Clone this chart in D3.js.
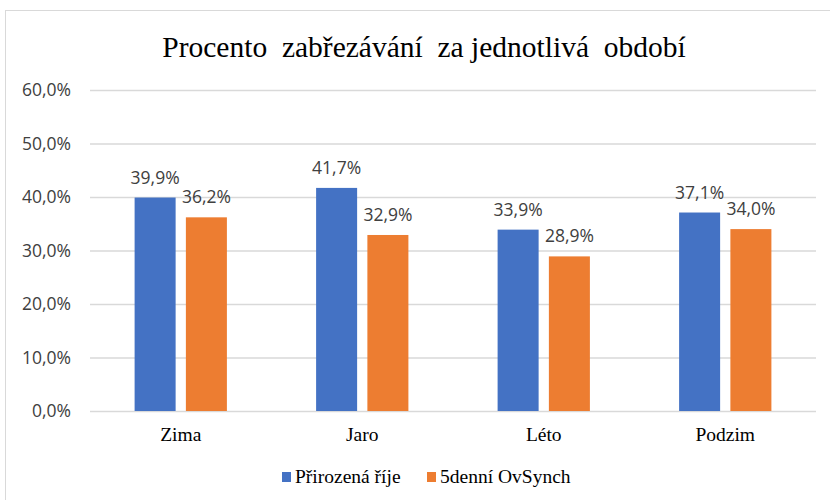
<!DOCTYPE html>
<html><head><meta charset="utf-8">
<script src="https://cdn.jsdelivr.net/npm/d3@7"></script>
<style>body{margin:0;background:#fff}svg{display:block}</style>
</head><body>
<script>
const categories = ["Zima", "Jaro", "Léto", "Podzim"];
const seriesNames = ["Přirozená říje", "5denní OvSynch"];
const natural = [39.9, 41.7, 33.9, 37.1];
const ovsynch = [36.2, 32.9, 28.9, 34.0];
const yTicks = [0, 10, 20, 30, 40, 50, 60];
const colors = ["#4472C4", "#ED7D31"];
const title = "Procento  zabřezávání  za jednotlivá  období";

const W = 830, H = 500;
const svg = d3.select("body").append("svg").attr("width", W).attr("height", H);
svg.append("rect").attr("x", 5.5).attr("y", 10.5).attr("width", 900).attr("height", 600)
  .attr("fill", "#fff").attr("stroke", "#d9d9d9").attr("stroke-width", 1);

const m = {left: 90, right: 816, top: 90, bottom: 411};
const x = d3.scaleBand().domain(categories).range([m.left, m.right]).paddingInner(0).paddingOuter(0);
const y = d3.scaleLinear().domain([0, 60]).range([m.bottom, m.top]);
const x1 = d3.scaleBand().domain([0, 1]).range([0, x.bandwidth()]).paddingInner(0.2).paddingOuter(0.87);

const fmt = v => d3.format(".1f")(v).replace(".", ",") + "%";
const sans = "Open Sans, sans-serif";
const serif = "Liberation Serif, Times New Roman, serif";

// gridlines
const yAxis = d3.axisLeft(y).tickValues(yTicks).tickSize(-(m.right - m.left)).tickFormat(fmt).tickPadding(19);
const ga = svg.append("g").attr("transform", `translate(${m.left},0)`).call(yAxis);
ga.select(".domain").remove();
ga.selectAll(".tick line").attr("stroke", "#d9d9d9").attr("stroke-width", 1.3);
ga.selectAll(".tick text").attr("font-family", sans).attr("font-size", 17.5).attr("fill", "#404040");

const data = [natural, ovsynch];
const groups = svg.append("g");
categories.forEach((c, i) => {
  data.forEach((s, j) => {
    const bx = x(c) + x1(j);
    groups.append("rect").attr("x", bx).attr("y", y(s[i])).attr("width", x1.bandwidth())
      .attr("height", y(0) - y(s[i])).attr("fill", colors[j]);
    groups.append("text").attr("x", bx + x1.bandwidth() / 2).attr("y", y(s[i]) - 14)
      .attr("text-anchor", "middle").attr("font-family", sans)
      .attr("font-size", 17.5).attr("fill", "#404040").text(fmt(s[i]));
  });
});

// x axis
const xAxis = d3.axisBottom(x).tickSize(0).tickPadding(16.5);
const gx = svg.append("g").attr("transform", `translate(0,${m.bottom})`).call(xAxis);
gx.select(".domain").remove();
gx.selectAll(".tick text").attr("font-family", serif).attr("font-size", 19.5).attr("fill", "#000");

// title
svg.append("text").attr("x", 424).attr("y", 57).attr("text-anchor", "middle")
  .attr("font-family", serif).attr("font-size", 29.5)
  .attr("fill", "#000").attr("xml:space", "preserve").style("white-space", "pre").text(title);

// legend
const legX = [282, 427];
seriesNames.forEach((n, j) => {
  svg.append("rect").attr("x", legX[j]).attr("y", 472).attr("width", 9).attr("height", 10).attr("fill", colors[j]);
  svg.append("text").attr("x", legX[j] + 13).attr("y", 483).attr("font-family", serif)
    .attr("font-size", 19.5).attr("fill", "#000").text(n);
});
</script>
</body></html>
